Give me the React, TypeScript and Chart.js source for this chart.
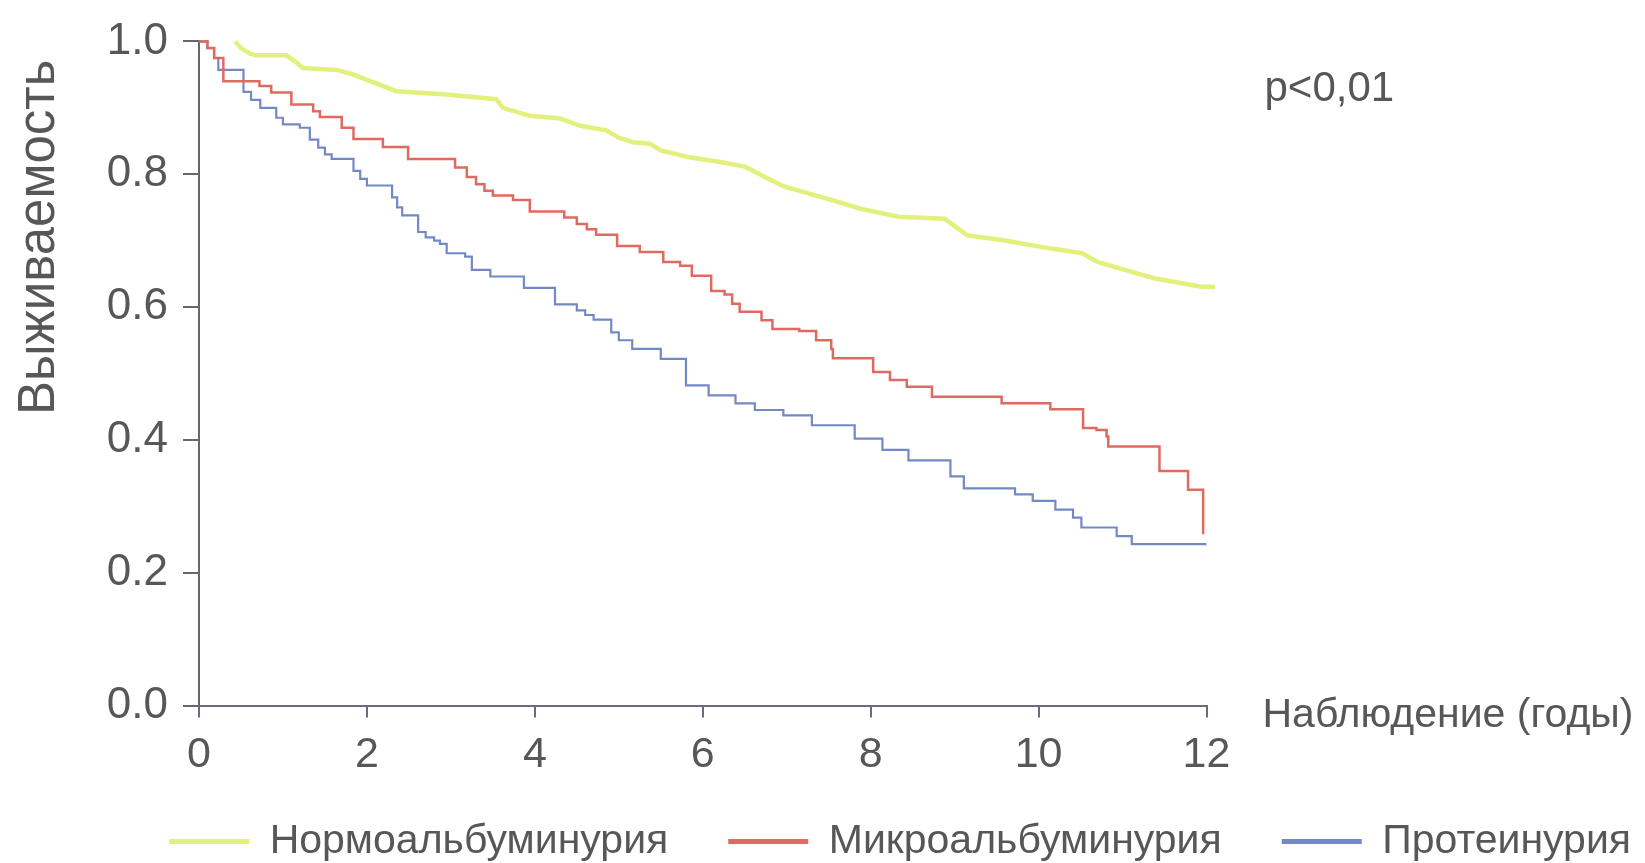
import React, { useEffect, useRef } from "react";
import { Chart, registerables } from "chart.js";

Chart.register(...registerables);

// ---- data ----
const seriesLabels = ["Нормоальбуминурия", "Микроальбуминурия", "Протеинурия"];

const normTimes = [0.43, 0.5, 0.6, 0.68, 1.04, 1.14, 1.24, 1.64, 1.84, 2.0, 2.15, 2.35, 2.95, 3.54, 3.62, 3.8, 3.94, 4.3, 4.54, 4.85, 5.0, 5.17, 5.37, 5.5, 5.82, 6.23, 6.51, 6.74, 6.96, 7.15, 7.51, 7.88, 8.33, 8.88, 9.15, 9.56, 10.15, 10.52, 10.7, 11.16, 11.39, 11.92, 12.1];
const normSurv = [1.0, 0.99, 0.982, 0.979, 0.979, 0.97, 0.96, 0.957, 0.95, 0.942, 0.935, 0.925, 0.92, 0.913, 0.9, 0.893, 0.888, 0.884, 0.873, 0.866, 0.855, 0.848, 0.846, 0.836, 0.826, 0.818, 0.811, 0.796, 0.782, 0.775, 0.762, 0.748, 0.736, 0.733, 0.708, 0.701, 0.688, 0.681, 0.668, 0.651, 0.643, 0.631, 0.63];

const microTimes = [0, 0.1, 0.18, 0.29, 0.72, 0.86, 1.1, 1.36, 1.44, 1.7, 1.84, 2.19, 2.49, 3.05, 3.19, 3.3, 3.4, 3.5, 3.74, 3.94, 4.35, 4.5, 4.62, 4.73, 4.98, 5.25, 5.53, 5.73, 5.87, 6.1, 6.26, 6.35, 6.44, 6.7, 6.83, 7.15, 7.35, 7.53, 7.55, 8.03, 8.23, 8.43, 8.73, 9.56, 10.14, 10.53, 10.69, 10.81, 10.83, 11.44, 11.78, 11.96];
const microSurv = [1.0, 0.99, 0.975, 0.94, 0.933, 0.923, 0.905, 0.895, 0.886, 0.87, 0.853, 0.841, 0.823, 0.81, 0.796, 0.785, 0.775, 0.768, 0.761, 0.744, 0.735, 0.725, 0.717, 0.709, 0.692, 0.683, 0.668, 0.662, 0.647, 0.624, 0.619, 0.605, 0.593, 0.58, 0.567, 0.564, 0.55, 0.537, 0.523, 0.502, 0.49, 0.48, 0.465, 0.455, 0.446, 0.418, 0.415, 0.405, 0.39, 0.353, 0.325, 0.258];

const protTimes = [0, 0.1, 0.18, 0.23, 0.53, 0.62, 0.73, 0.92, 1.0, 1.2, 1.32, 1.42, 1.5, 1.58, 1.84, 1.92, 2.0, 2.3, 2.36, 2.42, 2.61, 2.7, 2.8, 2.87, 2.95, 3.17, 3.25, 3.47, 3.87, 4.24, 4.5, 4.6, 4.7, 4.91, 5.0, 5.16, 5.5, 5.8, 6.07, 6.39, 6.62, 6.96, 7.3, 7.81, 8.14, 8.45, 8.95, 9.11, 9.72, 9.93, 10.2, 10.41, 10.51, 10.93, 11.11, 12.0];
const protSurv = [1.0, 0.99, 0.975, 0.957, 0.924, 0.912, 0.9, 0.885, 0.875, 0.87, 0.852, 0.84, 0.83, 0.823, 0.805, 0.793, 0.783, 0.765, 0.75, 0.738, 0.713, 0.705, 0.7, 0.695, 0.681, 0.676, 0.656, 0.646, 0.629, 0.604, 0.595, 0.588, 0.581, 0.562, 0.55, 0.537, 0.522, 0.482, 0.467, 0.455, 0.445, 0.437, 0.422, 0.402, 0.385, 0.369, 0.345, 0.327, 0.318, 0.308, 0.295, 0.283, 0.268, 0.255, 0.243, 0.243];

const xTicks = [0, 2, 4, 6, 8, 10, 12];
const yTicks = [0, 0.2, 0.4, 0.6, 0.8, 1.0];

const yTitle = "Выживаемость";
const xTitle = "Наблюдение (годы)";
const pText = "p<0,01";

// ---- style ----
const FONT = "'Liberation Sans', Arial, sans-serif";
const TEXT = "#575757";
const AXIS_Y = "#676767";
const AXIS_X = "#6d6a80";
const COLORS = ["#e3f07c", "#df6b60", "#7389c6"];
const CANVAS_W = 1691;
const CANVAS_H = 872;

const toPoints = (xs: number[], ys: number[]) => xs.map((x, i) => ({ x, y: ys[i] }));

const textPlugin = {
  id: "extraText",
  afterLayout(chart: any) {
    // let the x tick labels use the space below the axis without being clipped
    const s = chart.scales.x;
    s.bottom = chart.height;
    s.height = s.bottom - s.top;
  },
  afterDraw(chart: any) {
    const { ctx, chartArea } = chart;
    ctx.save();
    ctx.fillStyle = TEXT;
    ctx.textBaseline = "middle";
    ctx.textAlign = "left";
    ctx.font = `41px ${FONT}`;
    ctx.fillText(xTitle, chartArea.right + 56, chartArea.bottom + 10);
    ctx.font = `42px ${FONT}`;
    ctx.fillText(pText, chartArea.right + 58, chartArea.top + 48);
    ctx.translate(40, chartArea.top + 196);
    ctx.rotate(-Math.PI / 2);
    ctx.textAlign = "center";
    ctx.font = `51px ${FONT}`;
    ctx.fillText(yTitle, 0, 0);
    ctx.restore();
  },
};

export default function App() {
  const canvasRef = useRef<HTMLCanvasElement | null>(null);

  useEffect(() => {
    if (!canvasRef.current) return;
    const series = [
      { t: normTimes, s: normSurv, stepped: false, width: 4.5 },
      { t: microTimes, s: microSurv, stepped: true, width: 2.5 },
      { t: protTimes, s: protSurv, stepped: true, width: 2.2 },
    ];
    const chart = new Chart(canvasRef.current, {
      type: "line",
      data: {
        datasets: series.map((d, i) => ({
          label: seriesLabels[i],
          data: toPoints(d.t, d.s),
          borderColor: COLORS[i],
          backgroundColor: COLORS[i],
          borderWidth: d.width,
          pointRadius: 0,
          tension: 0,
          stepped: d.stepped ? "before" : false,
          clip: false,
          fill: false,
        })),
      },
      options: {
        animation: false,
        responsive: false,
        events: [],
        font: { family: FONT },
        layout: { padding: { top: 36, left: 0, right: 0, bottom: 0 } },
        scales: {
          x: {
            type: "linear",
            min: 0,
            max: 12,
            afterBuildTicks: (s: any) => {
              s.ticks = xTicks.map((value) => ({ value }));
            },
            afterFit: (s: any) => {
              s.height = 55.5;
            },
            ticks: { font: { size: 43, family: FONT }, color: TEXT, padding: 12, maxRotation: 0, autoSkip: false },
            grid: { drawOnChartArea: false, drawTicks: true, tickLength: 12, color: AXIS_X, lineWidth: 2 },
            border: { display: true, color: AXIS_X, width: 2 },
          },
          y: {
            type: "linear",
            min: 0,
            max: 1,
            afterBuildTicks: (s: any) => {
              s.ticks = yTicks.map((value) => ({ value }));
            },
            afterFit: (s: any) => {
              s.width = 199;
            },
            ticks: {
              font: { size: 44, family: FONT },
              color: TEXT,
              padding: 15,
              callback: (v: any) => Number(v).toFixed(1),
            },
            grid: { drawOnChartArea: false, drawTicks: true, tickLength: 16, color: AXIS_Y, lineWidth: 2 },
            border: { display: true, color: AXIS_Y, width: 2 },
          },
          yRight: {
            type: "linear",
            axis: "y",
            position: "right",
            display: true,
            ticks: { display: false },
            grid: { display: false },
            border: { display: false },
            afterFit: (s: any) => {
              s.width = CANVAS_W - 1206.5;
            },
          },
        },
        plugins: {
          tooltip: { enabled: false },
          legend: {
            position: "bottom",
            align: "end",
            labels: {
              boxWidth: 80,
              boxHeight: 5,
              padding: 60,
              color: TEXT,
              font: { size: 41, family: FONT },
              generateLabels: (c: any) =>
                c.data.datasets.map((ds: any, i: number) => ({
                  text: ds.label,
                  fillStyle: ds.borderColor,
                  strokeStyle: ds.borderColor,
                  lineWidth: 0,
                  hidden: false,
                  datasetIndex: i,
                  fontColor: TEXT,
                })),
            },
          },
        },
      } as any,
      plugins: [textPlugin],
    });
    return () => chart.destroy();
  }, []);

  return (
    <div style={{ position: "fixed", left: 0, top: 0, width: 1645, height: 863, overflow: "hidden", background: "#fff" }}>
      <canvas ref={canvasRef} width={CANVAS_W} height={CANVAS_H} style={{ display: "block", width: CANVAS_W, height: CANVAS_H }} />
    </div>
  );
}
